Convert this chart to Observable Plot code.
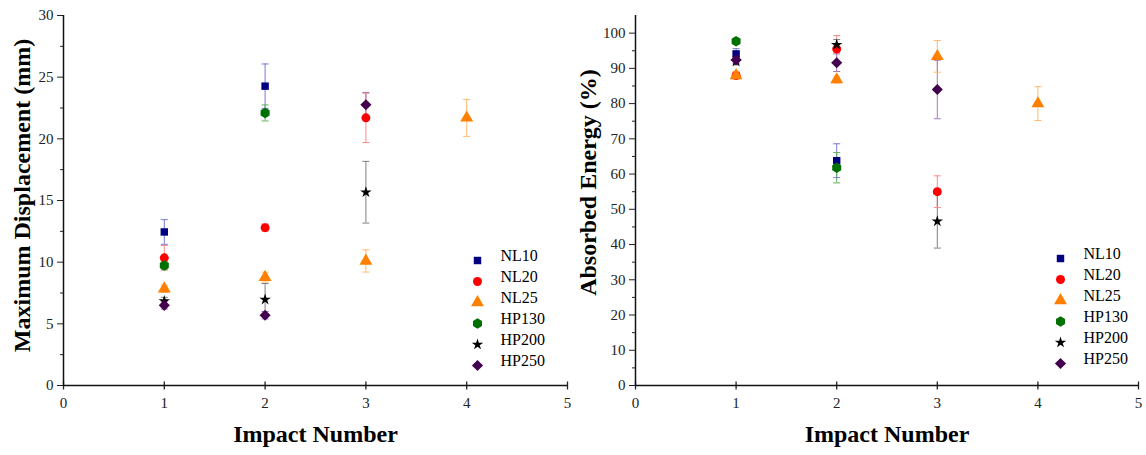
<!DOCTYPE html>
<html><head><meta charset="utf-8">
<script src="https://cdn.jsdelivr.net/npm/d3@7"></script>
<script src="https://cdn.jsdelivr.net/npm/@observablehq/plot@0.6"></script>
<style>
body{margin:0;background:#fff}
#wrap{display:flex;width:1146px;height:455px;background:#fff}
svg text{font-family:'Liberation Serif','Times New Roman',serif}
</style>
</head><body><div id="wrap"></div>
<script>
// ---- Data ----
const seriesNames = ["NL10", "NL20", "NL25", "HP130", "HP200", "HP250"];
const seriesColors = ["#000080", "#ff0000", "#ff8000", "#007000", "#000000", "#42004f"];
const errorColors = ["#7a7ad6", "#ff8888", "#ffba6e", "#62b062", "#808080", "#a47ab4"];
const seriesSymbols = ["square", "circle", "triangle", "hexagon", "star", "diamond2"];
const seriesSizes = [4.2, 4.5, 4.8, 4.5, 3.6, 5.0];

const nl10Impact = [1, 2];
const nl10Disp = [12.45, 24.27];
const nl10DispErr = [1.0, 1.8];
const nl10Energy = [94.1, 63.8];
const nl10EnergyErr = [1.5, 4.8];

const nl20Impact = [1, 2, 3];
const nl20Disp = [10.35, 12.8, 21.7];
const nl20DispErr = [1.0, 0.3, 2.0];
const nl20Energy = [88.0, 95.5, 55.0];
const nl20EnergyErr = [1.0, 3.8, 4.5];

const nl25Impact = [1, 2, 3, 4];
const nl25Disp = [7.84, 8.78, 10.1, 21.7];
const nl25DispErr = [0.3, 0.4, 0.9, 1.5];
const nl25Energy = [88.0, 86.8, 93.4, 80.0];
const nl25EnergyErr = [1.0, 1.0, 4.5, 4.8];

const hp130Impact = [1, 2];
const hp130Disp = [9.73, 22.1];
const hp130DispErr = [0.3, 0.65];
const hp130Energy = [97.7, 61.8];
const hp130EnergyErr = [0.8, 4.3];

const hp200Impact = [1, 2, 3];
const hp200Disp = [6.85, 6.97, 15.67];
const hp200DispErr = [0.3, 1.3, 2.5];
const hp200Energy = [92.0, 96.7, 46.6];
const hp200EnergyErr = [1.0, 1.5, 7.6];

const hp250Impact = [1, 2, 3];
const hp250Disp = [6.5, 5.7, 22.76];
const hp250DispErr = [0.3, 0.3, 1.0];
const hp250Energy = [92.4, 91.6, 84.0];
const hp250EnergyErr = [1.0, 2.5, 8.3];

const xTicks = [0, 1, 2, 3, 4, 5];
const dispTicks = [0, 5, 10, 15, 20, 25, 30];
const dispMinor = [2.5, 7.5, 12.5, 17.5, 22.5, 27.5];
const energyTicks = [0, 10, 20, 30, 40, 50, 60, 70, 80, 90, 100];
const energyMinor = [5, 15, 25, 35, 45, 55, 65, 75, 85, 95];

// ---- Build rows ----
const seriesData = [
  [nl10Impact, nl10Disp, nl10DispErr, nl10Energy, nl10EnergyErr],
  [nl20Impact, nl20Disp, nl20DispErr, nl20Energy, nl20EnergyErr],
  [nl25Impact, nl25Disp, nl25DispErr, nl25Energy, nl25EnergyErr],
  [hp130Impact, hp130Disp, hp130DispErr, hp130Energy, hp130EnergyErr],
  [hp200Impact, hp200Disp, hp200DispErr, hp200Energy, hp200EnergyErr],
  [hp250Impact, hp250Disp, hp250DispErr, hp250Energy, hp250EnergyErr]
];
const rows = [];
seriesData.forEach(([imp, d, de, e, ee], s) => {
  imp.forEach((x, i) => rows.push({
    series: seriesNames[s], idx: s, x,
    disp: d[i], dispErr: de[i], energy: e[i], energyErr: ee[i]
  }));
});

const hCap = {draw(ctx) { ctx.moveTo(-3.5, 0); ctx.lineTo(3.5, 0); }};
const vTick = {draw(ctx) { ctx.moveTo(0, -4); ctx.lineTo(0, 4); }};
const FONT = "'Liberation Serif', 'Times New Roman', serif";

function panel(cfg) {
  const {key, errKey, yDomain, major, minor, yLabel, marginLeft, marginRight,
         legMarkDx, legTextDx, legDy0, titleDx, titleDy} = cfg;
  const errColor = d => errorColors[d.idx];
  const lo = d => d[key] - d[errKey];
  const hi = d => d[key] + d[errKey];
  const legendMarks = seriesNames.flatMap((name, i) => [
    Plot.dot([name], {frameAnchor: "bottom-right", dx: legMarkDx, dy: legDy0 + i * 21,
      symbol: d => d, fill: d => d, r: seriesSizes[i], stroke: "none"}),
    Plot.text([name], {frameAnchor: "bottom-right", dx: legTextDx, dy: legDy0 + i * 21,
      text: d => d, textAnchor: "start", fontSize: 16, fill: "#000", fontFamily: FONT})
  ]);
  const pointMarks = seriesNames.map((name, i) =>
    Plot.dot(rows.filter(d => d.idx === i), {x: "x", y: key, symbol: "series", fill: "series",
      r: seriesSizes[i], stroke: "none"}));
  return Plot.plot({
    width: 573, height: 455,
    marginLeft, marginRight, marginTop: 15, marginBottom: 70,
    style: {fontFamily: FONT, background: "white", overflow: "visible"},
    x: {domain: [0, 5], axis: null},
    y: {domain: yDomain, axis: null, label: null},
    color: {domain: seriesNames, range: seriesColors},
    symbol: {domain: seriesNames, range: seriesSymbols},
    marks: [
      // axes
      Plot.axisY(major, {tickSize: 6, tickPadding: 4, fontSize: 15, color: "#222", label: null, fontFamily: FONT}),
      Plot.axisY(minor, {tickSize: 3, tickFormat: () => "", color: "#222", label: null}),
      Plot.axisX(xTicks, {tickSize: 0, tickPadding: 12, fontSize: 15, color: "#222", label: null, fontFamily: FONT}),
      Plot.dot(xTicks, {x: d => d, y: yDomain[0], symbol: vTick, stroke: "#222", fill: "none", strokeWidth: 1.3}),
      Plot.ruleY([yDomain[0]], {stroke: "#111", strokeWidth: 1.5}),
      Plot.ruleX([0], {stroke: "#111", strokeWidth: 1.5}),
      // error bars
      Plot.ruleX(rows, {x: "x", y1: lo, y2: hi, stroke: errColor, strokeWidth: 1}),
      Plot.dot(rows, {x: "x", y: lo, symbol: hCap, stroke: errColor, fill: "none", strokeWidth: 1}),
      Plot.dot(rows, {x: "x", y: hi, symbol: hCap, stroke: errColor, fill: "none", strokeWidth: 1}),
      // points
      ...pointMarks,
      ...legendMarks,
      // titles
      Plot.text([yLabel], {frameAnchor: "left", dx: titleDx, dy: titleDy, rotate: -90, text: d => d,
        textAnchor: "middle", fontSize: 24, fontWeight: "bold", fill: "#000", fontFamily: FONT}),
      Plot.text(["Impact Number"], {frameAnchor: "bottom", dy: 56, text: d => d,
        textAnchor: "middle", fontSize: 24, fontWeight: "bold", fill: "#000", fontFamily: FONT})
    ]
  });
}

const wrap = document.getElementById("wrap");
wrap.appendChild(panel({
  key: "disp", errKey: "dispErr", yDomain: [0, 30], major: dispTicks, minor: dispMinor,
  yLabel: "Maximum Displacement (mm)", marginLeft: 63, marginRight: 6,
  legMarkDx: -90, legTextDx: -67, legDy0: -125, titleDx: -41, titleDy: -5
}));
wrap.appendChild(panel({
  key: "energy", errKey: "energyErr", yDomain: [0, 105], major: energyTicks, minor: energyMinor,
  yLabel: "Absorbed Energy (%)", marginLeft: 62, marginRight: 8,
  legMarkDx: -78, legTextDx: -55, legDy0: -127, titleDx: -47, titleDy: -18
}));
</script>
</body></html>
